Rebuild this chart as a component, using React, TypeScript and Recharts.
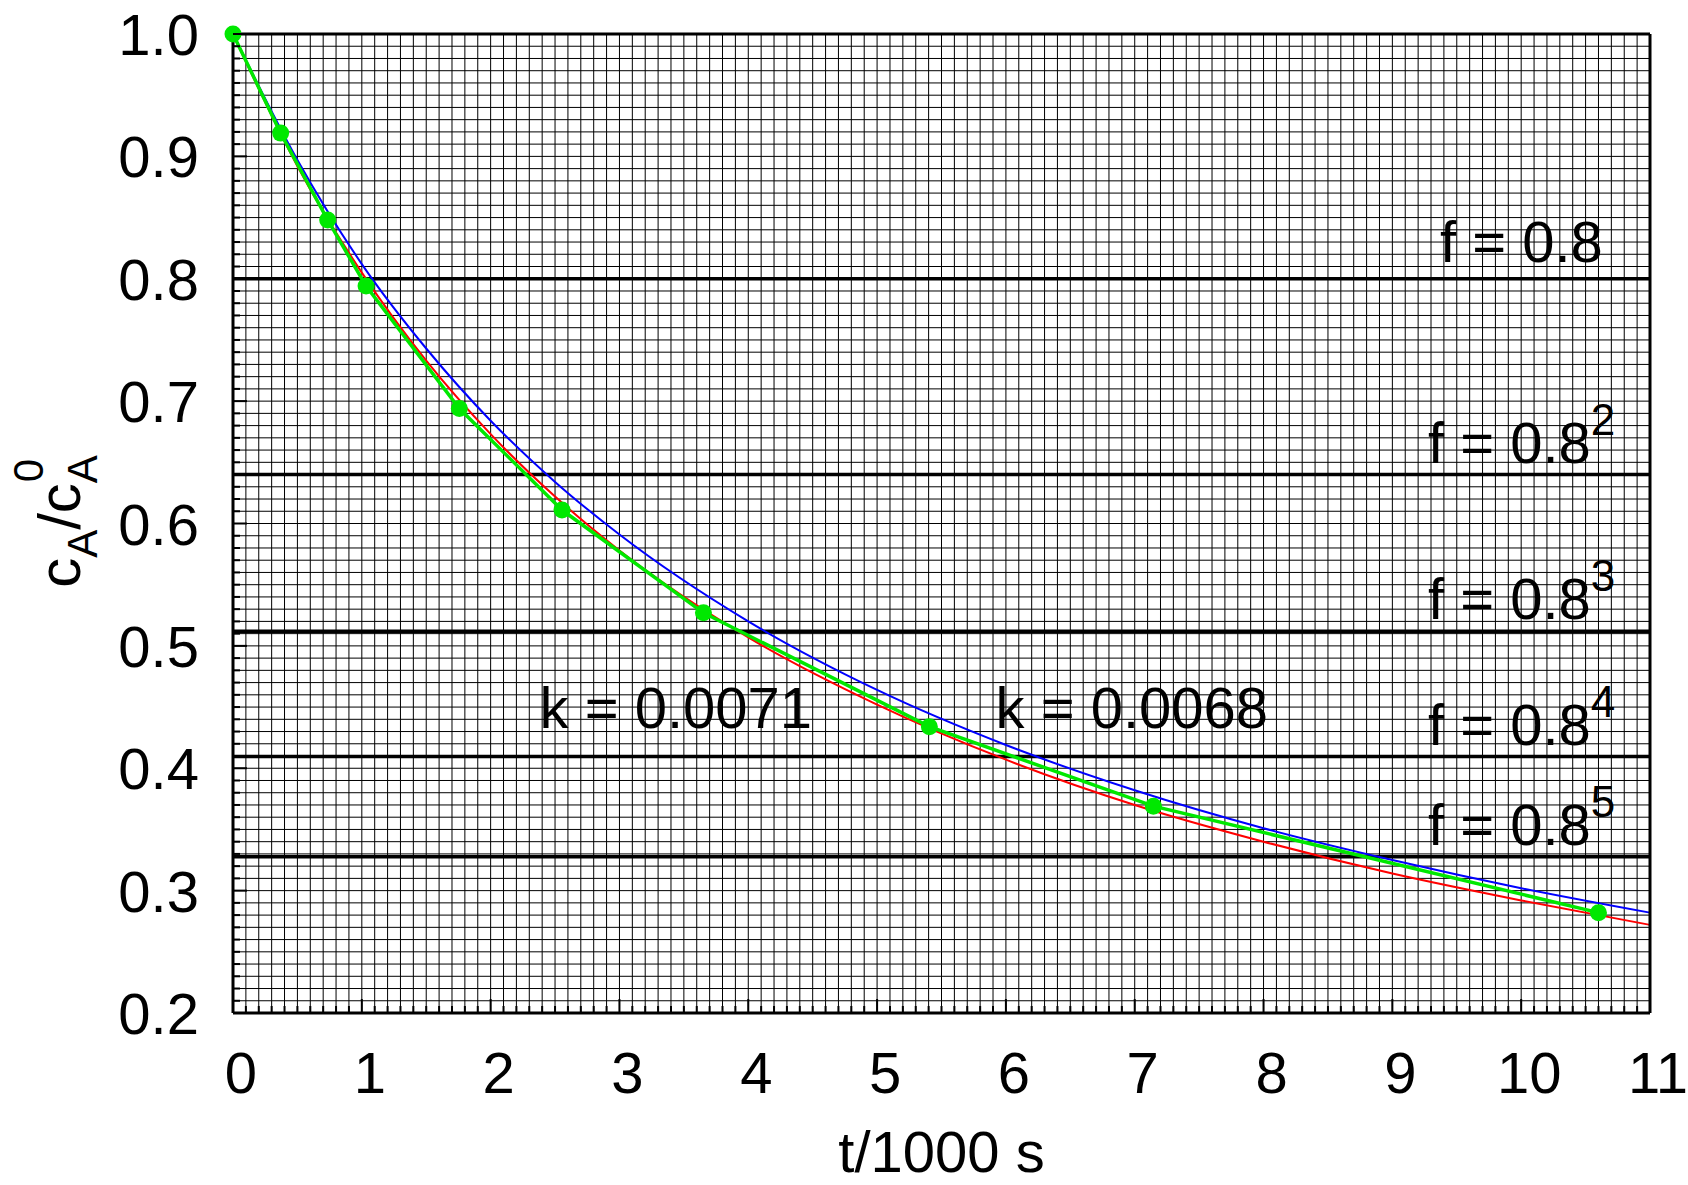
import { LineChart, Line, XAxis, YAxis, CartesianGrid, ReferenceLine, ReferenceDot } from 'recharts'

// measured concentrations (green points)
const dataT = [0, 0.37, 0.735, 1.033, 1.757, 2.554, 3.652, 5.406, 7.145, 10.6]
const dataC = [1.0, 0.919, 0.848, 0.794, 0.694, 0.611, 0.527, 0.434, 0.369, 0.282]

// fitted curves
const fitT = [0, 0.5, 1, 1.5, 2, 2.5, 3, 4, 5, 6, 7, 8, 9, 10, 11]
const redC = [1.0, 0.892, 0.805, 0.733, 0.673, 0.622, 0.578, 0.507, 0.452, 0.407, 0.370, 0.340, 0.314, 0.292, 0.272]
const blueC = [1.0, 0.897, 0.812, 0.743, 0.684, 0.634, 0.591, 0.520, 0.464, 0.419, 0.382, 0.351, 0.325, 0.302, 0.282]

// f = 0.8^n levels
const fLevels = [0.8, 0.64, 0.512, 0.4096, 0.32768]
const fExps = ['', '2', '3', '4', '5']

const kNotes = [
  { t: 2.38, c: 0.433, text: 'k = 0.0071' },
  { t: 5.92, c: 0.433, text: 'k = 0.0068' },
]

const xMajor = [0, 1, 2, 3, 4, 5, 6, 7, 8, 9, 10, 11]
const yMajor = [0.2, 0.3, 0.4, 0.5, 0.6, 0.7, 0.8, 0.9, 1.0]

// minor ticks: 10 per major step
const xTicks = xMajor.slice(0, -1).flatMap((m) => Array.from({ length: 10 }, (_, i) => +(m + i / 10).toFixed(2))).concat([11])
const yTicks = yMajor.slice(0, -1).flatMap((m) => Array.from({ length: 10 }, (_, i) => +(m + i / 100).toFixed(3))).concat([1.0])

const greenData = dataT.map((t, i) => ({ t, c: dataC[i] }))
const redData = fitT.map((t, i) => ({ t, c: redC[i] }))
const blueData = fitT.map((t, i) => ({ t, c: blueC[i] }))

const FONT = "'Liberation Sans', Arial, Helvetica, sans-serif"
const FS = 58
const GREEN = '#00e800'

const isXMajor = (v: number) => Math.abs(v - Math.round(v)) < 1e-6
const isYMajor = (v: number) => Math.abs(v * 10 - Math.round(v * 10)) < 1e-6

function BottomTick({ x, y, payload }: any) {
  const v = payload.value
  const major = isXMajor(v)
  return (
    <g>
      <line x1={x} x2={x} y1={y} y2={y - (major ? 14 : 7)} stroke="#000" strokeWidth={2} />
      {major && (
        <text x={x + 8} y={y + 80} textAnchor="middle" fontSize={FS} fontFamily={FONT} fill="#000">
          {Math.round(v)}
        </text>
      )}
    </g>
  )
}

function TopTick({ x, y, payload }: any) {
  const major = isXMajor(payload.value)
  return <line x1={x} x2={x} y1={y} y2={y + (major ? 14 : 7)} stroke="#000" strokeWidth={2} />
}

function LeftTick({ x, y, payload }: any) {
  const v = payload.value
  const major = isYMajor(v)
  return (
    <g>
      <line x1={x} x2={x + (major ? 14 : 7)} y1={y} y2={y} stroke="#000" strokeWidth={2} />
      {major && (
        <text x={x - 34} y={y + 21} textAnchor="end" fontSize={FS} fontFamily={FONT} fill="#000">
          {v.toFixed(1)}
        </text>
      )}
    </g>
  )
}

function RightTick({ x, y, payload }: any) {
  const major = isYMajor(payload.value)
  return <line x1={x} x2={x - (major ? 14 : 7)} y1={y} y2={y} stroke="#000" strokeWidth={2} />
}

const greenDot = (p: any) => {
  if (p.cx == null || p.cy == null) return <g key={p.index} />
  return <circle key={p.index} cx={p.cx} cy={p.cy} r={8.5} fill={GREEN} />
}

const fLabel = (exp: string) => (props: any) => {
  const vb = props.viewBox
  const x = vb.x + vb.width - (exp ? 222 : 210)
  const y = vb.y - (exp ? 12 : 17)
  return (
    <text x={x} y={y} fontSize={FS} fontFamily={FONT} fill="#000">
      f = 0.8
      {exp && (
        <tspan dy={-28} fontSize={44}>
          {exp}
        </tspan>
      )}
    </text>
  )
}

const kLabel = (text: string) => (props: any) => {
  const vb = props.viewBox
  return (
    <text x={vb.x + 1} y={vb.y + 1} fontSize={FS} fontFamily={FONT} fill="#000">
      {text}
    </text>
  )
}

function XTitle(props: any) {
  const vb = props.viewBox
  return (
    <text x={vb.x + vb.width / 2} y={vb.y + 159} textAnchor="middle" fontSize={FS} fontFamily={FONT} fill="#000">
      t/1000 s
    </text>
  )
}

function YTitle(props: any) {
  const vb = props.viewBox
  const cx = vb.x + 80
  const cy = vb.y + vb.height / 2 - 2
  return (
    <text
      x={cx}
      y={cy}
      transform={`rotate(-90, ${cx}, ${cy})`}
      textAnchor="middle"
      fontSize={60}
      fontFamily={FONT}
      fill="#000"
    >
      c
      <tspan dy={17} fontSize={42}>A</tspan>
      <tspan dy={-17}>/c</tspan>
      <tspan dy={17} fontSize={42}>A</tspan>
      <tspan dx={-27} dy={-54} fontSize={42}>0</tspan>
    </text>
  )
}

export default function App() {
  return (
    <div style={{ position: 'absolute', left: 0, top: 0, width: 1688, height: 1185, background: '#fff' }}>
      <LineChart width={1688} height={1185} margin={{ top: 33, right: 37, bottom: 0, left: 0 }}>
        <CartesianGrid stroke="#000" strokeWidth={1} />
        <XAxis
          dataKey="t"
          type="number"
          domain={[0, 11]}
          ticks={xTicks}
          interval={0}
          height={172}
          tickSize={0}
          tickMargin={0}
          tickLine={false}
          axisLine={{ stroke: '#000', strokeWidth: 3 }}
          tick={<BottomTick />}
          label={<XTitle />}
        />
        <XAxis
          xAxisId="top"
          orientation="top"
          dataKey="t"
          type="number"
          domain={[0, 11]}
          ticks={xTicks}
          interval={0}
          height={1}
          tickSize={0}
          tickMargin={0}
          tickLine={false}
          axisLine={{ stroke: '#000', strokeWidth: 3 }}
          tick={<TopTick />}
        />
        <YAxis
          type="number"
          domain={[0.2, 1]}
          ticks={yTicks}
          interval={0}
          width={233}
          tickSize={0}
          tickMargin={0}
          tickLine={false}
          axisLine={{ stroke: '#000', strokeWidth: 3 }}
          tick={<LeftTick />}
          label={<YTitle />}
        />
        <YAxis
          yAxisId="right"
          orientation="right"
          type="number"
          domain={[0.2, 1]}
          ticks={yTicks}
          interval={0}
          width={1}
          tickSize={0}
          tickMargin={0}
          tickLine={false}
          axisLine={{ stroke: '#000', strokeWidth: 3 }}
          tick={<RightTick />}
        />
        {fLevels.map((f, i) => (
          <ReferenceLine key={f} y={f} stroke="#000" strokeWidth={3.5} label={fLabel(fExps[i])} />
        ))}
        {kNotes.map((k) => (
          <ReferenceDot key={k.text} x={k.t} y={k.c} r={1} fill="none" stroke="none" label={kLabel(k.text)} />
        ))}
        <Line
          data={blueData}
          dataKey="c"
          type="monotone"
          stroke="#0000ff"
          strokeWidth={2}
          dot={false}
          isAnimationActive={false}
        />
        <Line
          data={redData}
          dataKey="c"
          type="monotone"
          stroke="#ff0000"
          strokeWidth={2}
          dot={false}
          isAnimationActive={false}
        />
        <Line
          data={greenData}
          dataKey="c"
          type="linear"
          stroke={GREEN}
          strokeWidth={3.5}
          dot={greenDot}
          isAnimationActive={false}
        />
      </LineChart>
    </div>
  )
}
